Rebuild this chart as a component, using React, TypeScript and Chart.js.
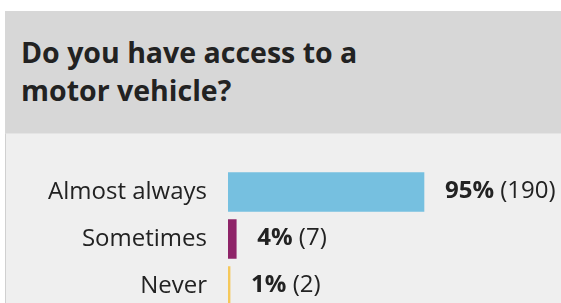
import React, { useEffect, useRef } from "react";
import { Chart, registerables } from "chart.js";

Chart.register(...registerables);

const title = ["Do you have access to a", "motor vehicle?"];
const categories = ["Almost always", "Sometimes", "Never"];
const percents = [95, 4, 1];
const counts = [190, 7, 2];
const colors = ["#76c0e0", "#8e2468", "#f5c85a"];

const FONT = "'Open Sans', sans-serif";

const valueLabels = {
  id: "valueLabels",
  afterDatasetsDraw(chart: any) {
    const ctx = chart.ctx;
    const meta = chart.getDatasetMeta(0);
    ctx.save();
    ctx.textBaseline = "middle";
    ctx.fillStyle = "#222222";
    meta.data.forEach((bar: any, i: number) => {
      const x = bar.x + 21;
      const y = bar.y - 1;
      ctx.font = `bold 24px ${FONT}`;
      const p = `${percents[i]}%`;
      ctx.fillText(p, x, y);
      const w = ctx.measureText(p).width;
      ctx.font = `24px ${FONT}`;
      ctx.fillText(` (${counts[i]})`, x + w, y);
    });
    ctx.restore();
  },
};

export default function App() {
  const ref = useRef<HTMLCanvasElement>(null);
  useEffect(() => {
    document.body.style.margin = "0";
    const chart = new Chart(ref.current!, {
      type: "bar",
      data: {
        labels: categories,
        datasets: [
          {
            data: percents,
            backgroundColor: colors,
            borderWidth: 0,
            barThickness: 39,
          },
        ],
      },
      options: {
        indexAxis: "y",
        animation: false,
        responsive: false,
        maintainAspectRatio: false,
        layout: { autoPadding: false, padding: { top: 34.5, bottom: 4.5, left: 0, right: 126.7 } },
        plugins: { legend: { display: false }, tooltip: { enabled: false }, title: { display: false } },
        scales: {
          x: {
            min: 0,
            max: 100,
            display: false,
          },
          y: {
            grid: { display: false, drawTicks: false },
            border: { display: false },
            afterFit(scale: any) {
              scale.width = 223;
              scale.paddingTop = 0;
              scale.paddingBottom = 0;
            },
            ticks: {
              padding: 21,
              color: "#222222",
              font: { family: FONT, size: 24 },
            },
          },
        },
      },
      plugins: [valueLabels],
    });
    return () => chart.destroy();
  }, []);

  return (
    <div style={{ position: "absolute", left: 0, top: 0, width: 561, height: 303, overflow: "hidden", background: "#fff" }}>
      <div
        style={{
          position: "absolute",
          left: 5,
          top: 11,
          width: 556,
          height: 122,
          background: "#d7d7d7",
        }}
      >
        <div
          style={{
            position: "absolute",
            left: 16,
            top: 22,
            fontFamily: FONT,
            fontWeight: 700,
            fontSize: 28.5,
            lineHeight: "38px",
            color: "#222222",
            whiteSpace: "nowrap",
          }}
        >
          {title[0]}
          <br />
          {title[1]}
        </div>
      </div>
      <div
        style={{
          position: "absolute",
          left: 5,
          top: 133,
          width: 556,
          height: 170,
          background: "#efefef",
          borderLeft: "1px solid #d0d0d0",
          borderTop: "1px solid #e4e4e4",
          boxSizing: "border-box",
        }}
      />
      <canvas
        ref={ref}
        width={556}
        height={180}
        style={{ position: "absolute", left: 5, top: 134, width: 556, height: 180 }}
      />
    </div>
  );
}
